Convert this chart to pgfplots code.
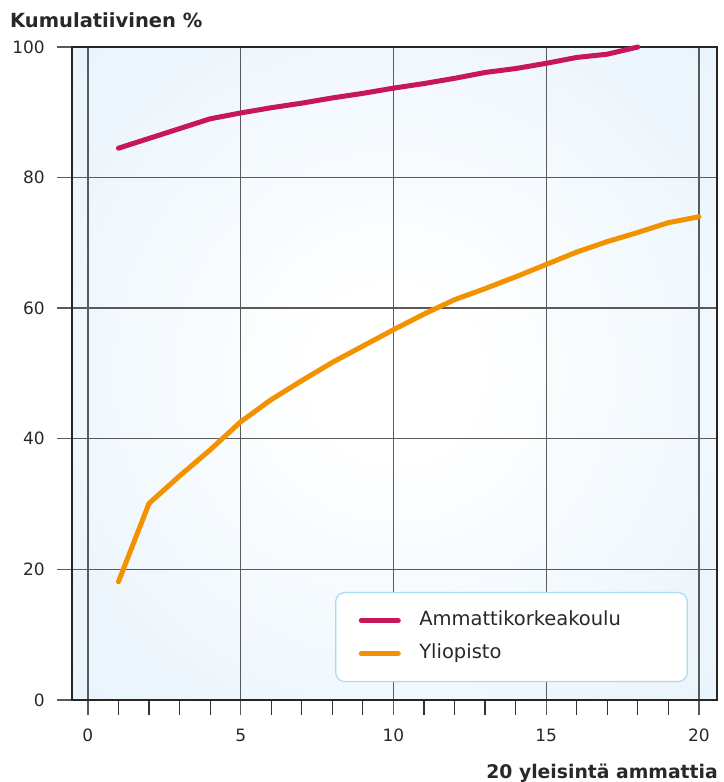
\documentclass[border=0pt]{standalone}
\usepackage{fontspec}
\setmainfont{DejaVu Sans}
\usepackage{pgfplots}
\pgfplotsset{compat=1.18}
\definecolor{amk}{RGB}{200,22,90}
\definecolor{yo}{RGB}{243,146,0}
\definecolor{bgblue}{RGB}{228,241,251}
\definecolor{gridgray}{RGB}{90,90,90}
\definecolor{legblue}{RGB}{170,218,240}
\definecolor{txt}{RGB}{40,40,40}
\pgfdeclareradialshading{bgshade}{\pgfpoint{0bp}{0bp}}{color(0bp)=(white); color(6bp)=(white); color(30bp)=(bgblue!70!white); color(50bp)=(bgblue)}
\newcommand{\tickfont}{\fontsize{17bp}{20bp}\selectfont}
\newcommand{\legfont}{\fontsize{19.5bp}{22bp}\selectfont}
\newcommand{\labfont}{\fontsize{19.5bp}{22bp}\selectfont\bfseries}
\newcommand{\xlabfont}{\fontsize{18.8bp}{22bp}\selectfont\bfseries}

\pgfplotstableread{
x y
1 84.5
2 86.0
3 87.5
4 89.0
5 89.9
6 90.7
7 91.4
8 92.2
9 92.9
10 93.7
11 94.4
12 95.2
13 96.1
14 96.7
15 97.5
16 98.4
17 98.9
18 100.0
}\amkdata

\pgfplotstableread{
x y
1 18.1
2 30.1
3 34.3
4 38.3
5 42.6
6 46.0
7 48.9
8 51.7
9 54.2
10 56.7
11 59.1
12 61.3
13 63.0
14 64.8
15 66.7
16 68.6
17 70.2
18 71.6
19 73.1
20 74.0
}\yodata

\begin{document}
\begin{tikzpicture}
\begin{axis}[
  scale only axis,
  width=645bp, height=653bp,
  xmin=-0.52, xmax=20.59, ymin=0, ymax=100,
  xtick={0,5,...,20},
  minor xtick={1,...,20},
  ytick={0,20,...,100},
  xtick pos=bottom, ytick pos=left,
  tick align=outside,
  major tick length=15bp, minor tick length=15bp,
  xmajorgrids, ymajorgrids,
  major grid style={gridgray, line width=1.4bp},
  tick style={gridgray, line width=1.4bp},
  minor tick style={black!80, line width=1.2bp},
  axis line style={black!85, line width=1.5bp},
  /pgf/number format/assume math mode=true,
  ticklabel style={font=\tickfont, text=txt},
  xticklabel style={inner sep=0pt, anchor=north, yshift=-14bp},
  yticklabel style={inner sep=0pt, anchor=east, xshift=-12bp},
  axis background/.style={shading=bgshade},
  clip=false,
  legend style={at={(0.408,0.1654)}, anchor=north west, draw=legblue, line width=1.2bp,
    rounded corners=9bp, fill=white, inner xsep=23bp, inner ysep=19.5bp, row sep=16bp,
    font=\legfont, text=txt,
    nodes={inner sep=0pt, text height=13bp, text depth=4bp}},
  legend cell align=left,
  legend image code/.code={\draw[#1, line width=5bp, line cap=round] (2bp,0bp) -- (39bp,0bp); \path[draw=none] (0bp,0bp) rectangle (60bp,0bp);},
]
\addplot[amk, line width=5bp, line join=round, line cap=round] table[x=x,y=y] {\amkdata};
\addlegendentry{\makebox[245bp][l]{Ammattikorkeakoulu}}
\addplot[yo, line width=5bp, line join=round, line cap=round] table[x=x,y=y] {\yodata};
\addlegendentry{\makebox[245bp][l]{Yliopisto}}
\coordinate (SW) at (rel axis cs:0,0);
\coordinate (NW) at (rel axis cs:0,1);
\coordinate (SE) at (rel axis cs:1,0);
\end{axis}
\node[anchor=west, font=\labfont, text=txt, inner sep=0pt] at ([xshift=-62bp, yshift=27bp]NW) {Kumulatiivinen \%};
\node[anchor=east, font=\xlabfont, text=txt, inner sep=0pt] at ([xshift=1bp, yshift=-73bp]SE) {20 yleisintä ammattia};
\pgfresetboundingbox
\path (SW) ++(-72bp,-82bp) rectangle ++(724bp,782bp);
\end{tikzpicture}
\end{document}
